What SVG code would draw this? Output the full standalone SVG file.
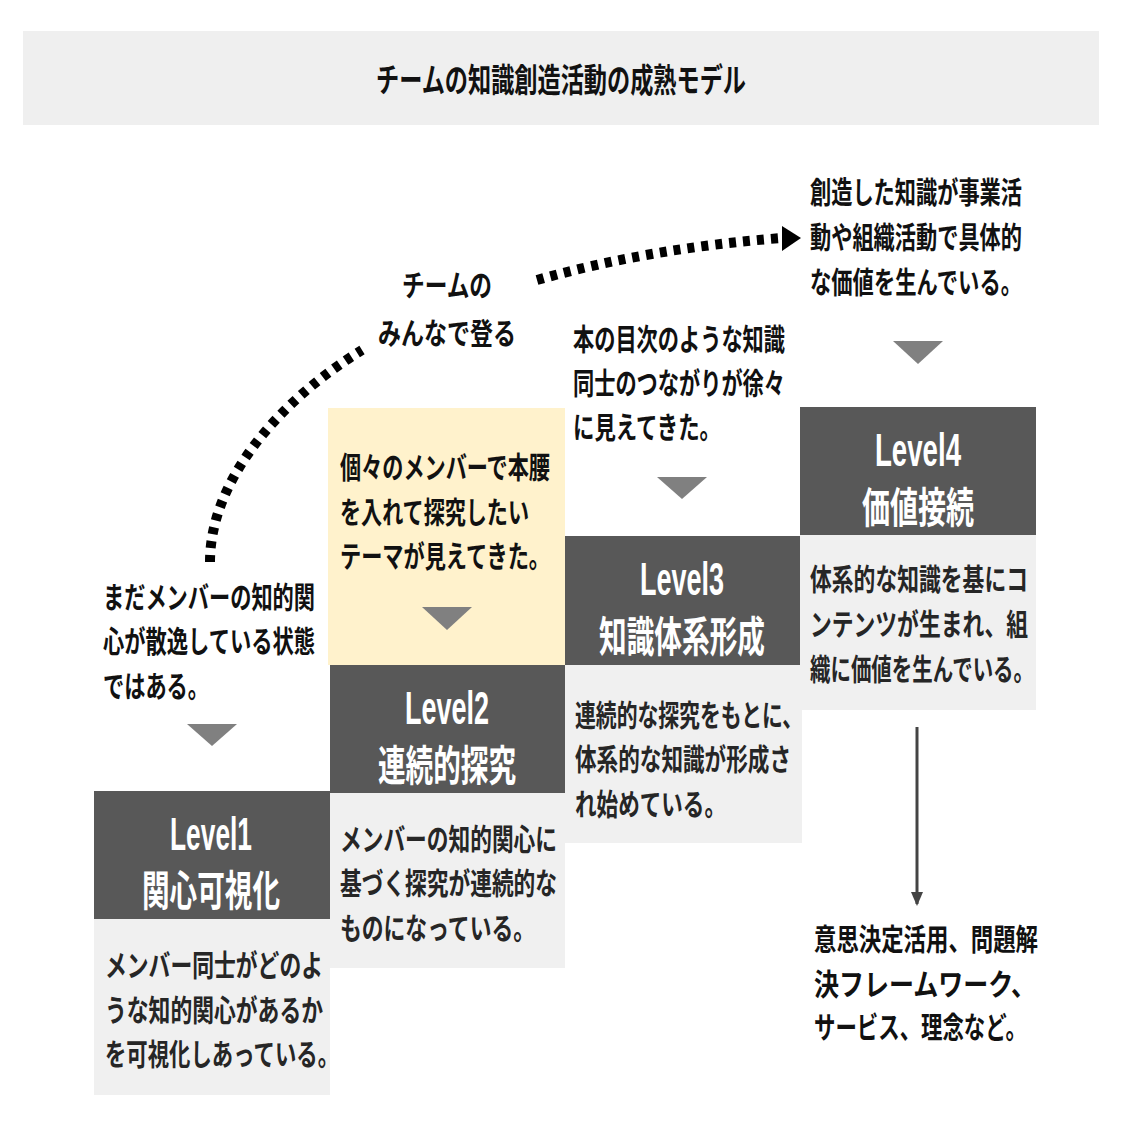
<svg xmlns="http://www.w3.org/2000/svg" width="1127" height="1127" viewBox="0 0 1127 1127">
<style>
.jp{font-family:"Noto Sans CJK JP","Noto Sans",sans-serif;font-weight:700;font-size:30px;fill:#111;}
.jpg{font-family:"Noto Sans CJK JP","Noto Sans",sans-serif;font-weight:700;font-size:30px;fill:#262626;}
.lv{font-family:"Liberation Sans",Arial,sans-serif;font-weight:700;font-size:46px;fill:#fff;text-anchor:middle;}
.lvj{font-family:"Noto Sans CJK JP",sans-serif;font-weight:700;font-size:42px;fill:#fff;text-anchor:middle;}
.dark{fill:#585858;}
.light{fill:#f0f0f0;}
.tri{fill:#808080;}
.dots{fill:none;stroke:#000;stroke-width:10;stroke-dasharray:7 7;}
</style>
<defs>
<marker id="ah" markerWidth="14" markerHeight="12" refX="12" refY="6" orient="auto" markerUnits="userSpaceOnUse" viewBox="0 0 14 12">
<path d="M0,0 L14,6 L0,12 z" fill="#444"/>
</marker>
</defs>
<rect width="1127" height="1127" fill="#fff"/>
<g id="title">
<rect x="23" y="31" width="1076" height="94" fill="#efefef"/>
<text class="jp" x="376" y="92" textLength="370" lengthAdjust="spacingAndGlyphs" style="font-size:33px">チームの知識創造活動の成熟モデル</text>
</g>
<g id="connectors">
<path class="dots" d="M210,562 C210,480 280,400 362,350"/>
<path class="dots" d="M537,280 Q650,248 782,238"/>
<polygon points="782,226 801,238 782,251" fill="#000"/>
<line x1="917" y1="727" x2="917" y2="904" stroke="#444" stroke-width="3" marker-end="url(#ah)"/>
</g>
<g id="climb-label">
<text class="jp" x="402" y="296" textLength="90" lengthAdjust="spacingAndGlyphs">チームの</text>
<text class="jp" x="378" y="344" textLength="138" lengthAdjust="spacingAndGlyphs">みんなで登る</text>
</g>
<g id="level1">
<text class="jp" x="103" y="608" textLength="212" lengthAdjust="spacingAndGlyphs">まだメンバーの知的関</text>
<text class="jp" x="103" y="652" textLength="212" lengthAdjust="spacingAndGlyphs">心が散逸している状態</text>
<text class="jp" x="103" y="697" textLength="106" lengthAdjust="spacingAndGlyphs">ではある。</text>
<polygon class="tri" points="187,724 237,724 212,746"/>
<rect class="dark" x="94" y="791" width="236" height="128"/>
<text class="lv" x="211" y="850" textLength="82" lengthAdjust="spacingAndGlyphs">Level1</text>
<text class="lvj" x="211" y="906" textLength="138" lengthAdjust="spacingAndGlyphs">関心可視化</text>
<rect class="light" x="94" y="919" width="236" height="176"/>
<text class="jpg" x="105" y="976" textLength="218" lengthAdjust="spacingAndGlyphs">メンバー同士がどのよ</text>
<text class="jpg" x="105" y="1021" textLength="218" lengthAdjust="spacingAndGlyphs">うな知的関心があるか</text>
<text class="jpg" x="105" y="1065" textLength="234" lengthAdjust="spacingAndGlyphs">を可視化しあっている。</text>
</g>
<g id="level2">
<rect x="328" y="408" width="237" height="257" fill="#fff2cc"/>
<text class="jp" x="340" y="478" textLength="210" lengthAdjust="spacingAndGlyphs">個々のメンバーで本腰</text>
<text class="jp" x="340" y="523" textLength="189" lengthAdjust="spacingAndGlyphs">を入れて探究したい</text>
<text class="jp" x="340" y="567" textLength="210" lengthAdjust="spacingAndGlyphs">テーマが見えてきた。</text>
<polygon class="tri" points="422,607 472,607 447,630"/>
<rect class="dark" x="330" y="665" width="235" height="128"/>
<text class="lv" x="447" y="724" textLength="84" lengthAdjust="spacingAndGlyphs">Level2</text>
<text class="lvj" x="447" y="781" textLength="138" lengthAdjust="spacingAndGlyphs">連続的探究</text>
<rect class="light" x="330" y="793" width="235" height="175"/>
<text class="jpg" x="340" y="850" textLength="217" lengthAdjust="spacingAndGlyphs">メンバーの知的関心に</text>
<text class="jpg" x="340" y="894" textLength="217" lengthAdjust="spacingAndGlyphs">基づく探究が連続的な</text>
<text class="jpg" x="340" y="939" textLength="195" lengthAdjust="spacingAndGlyphs">ものになっている。</text>
</g>
<g id="level3">
<text class="jp" x="573" y="350" textLength="212" lengthAdjust="spacingAndGlyphs">本の目次のような知識</text>
<text class="jp" x="573" y="394" textLength="212" lengthAdjust="spacingAndGlyphs">同士のつながりが徐々</text>
<text class="jp" x="573" y="438" textLength="148" lengthAdjust="spacingAndGlyphs">に見えてきた。</text>
<polygon class="tri" points="657,477 707,477 682,499"/>
<rect class="dark" x="565" y="536" width="236" height="129"/>
<text class="lv" x="682" y="595" textLength="84" lengthAdjust="spacingAndGlyphs">Level3</text>
<text class="lvj" x="682" y="652" textLength="166" lengthAdjust="spacingAndGlyphs">知識体系形成</text>
<rect class="light" x="565" y="665" width="237" height="178"/>
<text class="jpg" x="575" y="726" textLength="228" lengthAdjust="spacingAndGlyphs">連続的な探究をもとに、</text>
<text class="jpg" x="575" y="770" textLength="216" lengthAdjust="spacingAndGlyphs">体系的な知識が形成さ</text>
<text class="jpg" x="575" y="815" textLength="151" lengthAdjust="spacingAndGlyphs">れ始めている。</text>
</g>
<g id="level4">
<text class="jp" x="810" y="203" textLength="212" lengthAdjust="spacingAndGlyphs">創造した知識が事業活</text>
<text class="jp" x="810" y="248" textLength="212" lengthAdjust="spacingAndGlyphs">動や組織活動で具体的</text>
<text class="jp" x="810" y="293" textLength="212" lengthAdjust="spacingAndGlyphs">な価値を生んでいる。</text>
<polygon class="tri" points="893,341 943,341 918,364"/>
<rect class="dark" x="800" y="407" width="236" height="128"/>
<text class="lv" x="918" y="466" textLength="86" lengthAdjust="spacingAndGlyphs">Level4</text>
<text class="lvj" x="918" y="523" textLength="112" lengthAdjust="spacingAndGlyphs">価値接続</text>
<rect class="light" x="800" y="535" width="236" height="175"/>
<text class="jpg" x="810" y="590" textLength="218" lengthAdjust="spacingAndGlyphs">体系的な知識を基にコ</text>
<text class="jpg" x="810" y="635" textLength="218" lengthAdjust="spacingAndGlyphs">ンテンツが生まれ、組</text>
<text class="jpg" x="810" y="680" textLength="224" lengthAdjust="spacingAndGlyphs">織に価値を生んでいる。</text>
</g>
<g id="outcome">
<text class="jp" x="814" y="950" textLength="224" lengthAdjust="spacingAndGlyphs">意思決定活用、問題解</text>
<text class="jp" x="814" y="995" textLength="222" lengthAdjust="spacingAndGlyphs">決フレームワーク、</text>
<text class="jp" x="814" y="1038" textLength="213" lengthAdjust="spacingAndGlyphs">サービス、理念など。</text>
</g>
</svg>
